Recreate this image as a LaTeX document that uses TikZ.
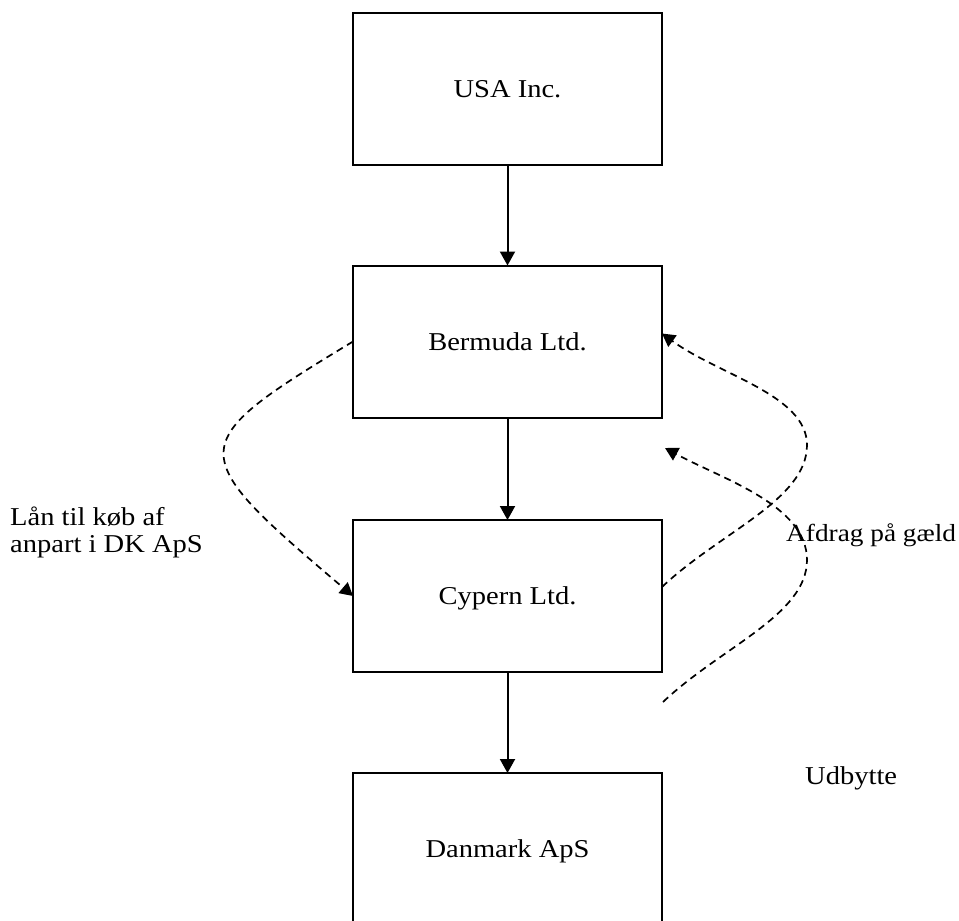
\documentclass[tikz,border=0pt]{standalone}
\usepackage{fontspec}
\setmainfont[FakeStretch=1.11]{Liberation Serif}
\usetikzlibrary{arrows.meta}
\tikzset{
  box/.style={draw, line width=2pt, minimum width=309pt, minimum height=152pt,
    inner sep=0pt, outer sep=0pt, text height=17pt, text depth=0pt,
    font=\fontsize{25.7}{27}\selectfont},
  lbl/.style={inner sep=0pt, font=\fontsize{25.7}{27}\selectfont},
  solidarrow/.style={line width=2pt, -{Triangle[length=14pt,width=15pt]}},
  dasharrow/.style={line width=1.7pt, dash pattern=on 7pt off 5pt, -{Triangle[length=13pt,width=14pt]}}
}
\begin{document}
\begin{tikzpicture}[x=1pt,y=-1pt]
\useasboundingbox (0,0) rectangle (959,921);
\clip (0,0) rectangle (959,921);
\fill[white] (0,0) rectangle (959,921);
\node[box] (usa) at (507.5,89) {USA Inc.};
\node[box] (ber) at (507.5,341.5) {Bermuda Ltd.};
\node[box] (cyp) at (507.5,596) {Cypern Ltd.};
\node[box] (dk) at (507.5,849) {Danmark ApS};
\draw[solidarrow] (usa.south) -- (ber.north);
\draw[solidarrow] (ber.south) -- (cyp.north);
\draw[solidarrow] (cyp.south) -- (dk.north);
% loan curve
\draw[dasharrow] (ber.west) .. controls (182,445) and (182,451) .. (cyp.west);
% repayment curve
\draw[dasharrow] ([yshift=9pt]cyp.east) .. controls (720,532) and (807,500) .. (807,445)
   .. controls (807,395) and (719,375) .. ([yshift=8pt]ber.east);
% dividend curve
\coordinate (r2s) at (663,702);
\coordinate (r2e) at (665,448);
\draw[dasharrow] (r2s) .. controls (721,647) and (807,615) .. (807,560)
   .. controls (807,505) and (722,479) .. (r2e);
\node[lbl, anchor=base west, align=left] (lan) at (10,552) {Lån til køb af\\anpart i DK ApS};
\node[lbl, anchor=base west, font=\fontsize{24.6}{27}\selectfont] (afd) at (786,541.7) {Afdrag på gæld};
\node[lbl, anchor=base west] (udb) at (805,784) {Udbytte};
\end{tikzpicture}
\end{document}
